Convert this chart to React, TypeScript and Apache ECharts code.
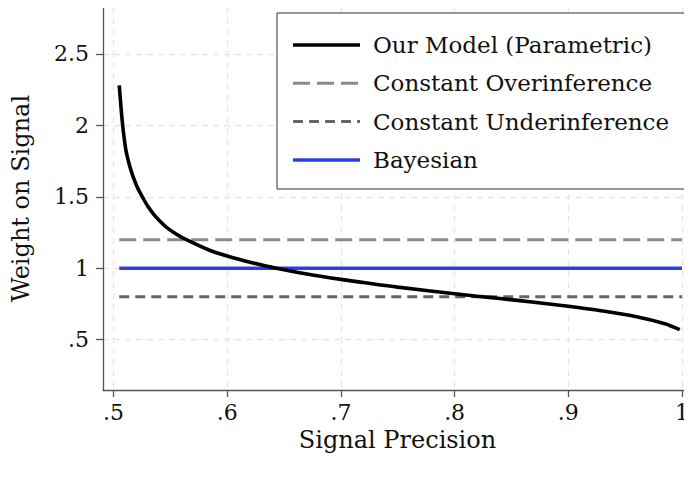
import React, { useEffect, useRef } from "react";
import * as echarts from "echarts";

// Signal precision (x) and the model's implied weight on the signal (y)
const precision = [
  0.505, 0.5065, 0.508, 0.5095, 0.511, 0.514, 0.517, 0.521, 0.526, 0.53,
  0.535, 0.54, 0.546, 0.555, 0.564, 0.585, 0.602, 0.62, 0.643, 0.67, 0.7,
  0.72, 0.75, 0.8, 0.82, 0.84, 0.87, 0.9, 0.93, 0.96, 0.985, 0.998,
];
const modelWeight = [
  2.28, 2.13, 2.0, 1.9, 1.82, 1.72, 1.645, 1.565, 1.49, 1.435,
  1.38, 1.335, 1.29, 1.24, 1.2, 1.124, 1.08, 1.042, 1.0, 0.96, 0.922,
  0.9, 0.868, 0.822, 0.804, 0.788, 0.762, 0.734, 0.701, 0.661, 0.612, 0.57,
];

// Constant benchmarks
const overinferenceWeight = 1.2;
const underinferenceWeight = 0.8;
const bayesianWeight = 1.0;
const benchmarkRange = [0.505, 1.0];

const seriesNames = [
  "Our Model (Parametric)",
  "Constant Overinference",
  "Constant Underinference",
  "Bayesian",
];

const xTicks = [0.5, 0.6, 0.7, 0.8, 0.9, 1.0];
const xTickLabels = [".5", ".6", ".7", ".8", ".9", "1"];
const yTicks = [0.5, 1.0, 1.5, 2.0, 2.5];
const yTickLabels = [".5", "1", "1.5", "2", "2.5"];

const FONT = "DejaVu Serif";

// Line styles, in legend order
const styles = [
  { color: "#000", width: 3.6, type: "solid" as any },
  { color: "#8a8a8a", width: 3, type: [17, 7] as any },
  { color: "#666", width: 3, type: [10, 6] as any },
  { color: "#2c3fe0", width: 3.3, type: "solid" as any },
];

export default function App() {
  const ref = useRef<HTMLDivElement>(null);

  useEffect(() => {
    if (!ref.current) return;
    const chart = echarts.init(ref.current, null, { renderer: "svg" });

    const flat = (v: number) => benchmarkRange.map((x) => [x, v]);
    const labelFor = (ticks: number[], labels: string[]) => (v: number) => {
      const i = ticks.findIndex((t) => Math.abs(t - v) < 1e-6);
      return i >= 0 ? labels[i] : "";
    };

    const gridLine = {
      show: true,
      lineStyle: { color: "#e6e6e6", width: 1.3, type: [6, 5] as number[] },
    };
    const axisLine = { show: true, lineStyle: { color: "#555", width: 1.3 } };

    // Legend box drawn as graphics: frame, line samples, labels
    const boxX = 277;
    const boxY = 13;
    const rowY = [45, 83.3, 121.6, 160];
    const legendItems: any[] = [
      {
        type: "rect",
        shape: { x: boxX, y: boxY, width: 413, height: 176 },
        style: { fill: "#fff", stroke: "#333", lineWidth: 1 },
        z: 10,
      },
    ];
    seriesNames.forEach((name, i) => {
      const s = styles[i];
      legendItems.push({
        type: "line",
        shape: { x1: 293, y1: rowY[i], x2: 360, y2: rowY[i] },
        style: { stroke: s.color, lineWidth: s.width, lineDash: Array.isArray(s.type) ? s.type : null },
        z: 11,
      });
      legendItems.push({
        type: "text",
        x: 373,
        y: rowY[i],
        style: {
          text: name,
          fontFamily: FONT,
          fontSize: 23,
          fill: "#111",
          verticalAlign: "middle",
          align: "left",
        },
        z: 11,
      });
    });

    const seriesData = [
      precision.map((x, i) => [x, modelWeight[i]]),
      flat(overinferenceWeight),
      flat(underinferenceWeight),
      flat(bayesianWeight),
    ];
    // draw benchmarks first, model curve on top
    const order = [1, 2, 3, 0];

    chart.setOption({
      animation: false,
      backgroundColor: "#fff",
      grid: { left: 103, right: 0, top: 7, bottom: 88, containLabel: false },
      xAxis: {
        type: "value",
        min: 0.4907,
        max: 1.0088,
        axisLine,
        axisTick: { show: true, length: 7, lineStyle: { color: "#555", width: 1.3 }, customValues: xTicks },
        axisLabel: {
          customValues: xTicks,
          formatter: labelFor(xTicks, xTickLabels),
          fontFamily: FONT,
          fontSize: 22,
          color: "#111",
          margin: 11,
        },
        splitLine: gridLine,
        name: "Signal Precision",
        nameLocation: "middle",
        nameGap: 31,
        nameTextStyle: { fontFamily: FONT, fontSize: 24, color: "#111" },
      },
      yAxis: {
        type: "value",
        min: 0.148,
        max: 2.828,
        axisLine,
        axisTick: { show: true, length: 7, lineStyle: { color: "#555", width: 1.3 }, customValues: yTicks },
        axisLabel: {
          customValues: yTicks,
          formatter: labelFor(yTicks, yTickLabels),
          fontFamily: FONT,
          fontSize: 22,
          color: "#111",
          margin: 14,
        },
        splitLine: gridLine,
        name: "Weight on Signal",
        nameLocation: "middle",
        nameGap: 70,
        nameTextStyle: { fontFamily: FONT, fontSize: 24, color: "#111" },
      },
      graphic: legendItems,
      series: order.map((i) => ({
        name: seriesNames[i],
        type: "line",
        symbol: "none",
        smooth: i === 0 ? 0.3 : false,
        data: seriesData[i],
        color: styles[i].color,
        lineStyle: { color: styles[i].color, width: styles[i].width, type: styles[i].type },
        z: i === 0 ? 4 : 3,
      })),
    });

    return () => chart.dispose();
  }, []);

  return <div ref={ref} style={{ width: 692, height: 478, margin: -8 }} />;
}
